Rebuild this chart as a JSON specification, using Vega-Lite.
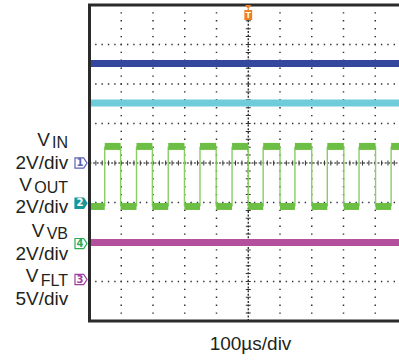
{
  "$schema": "https://vega.github.io/schema/vega-lite/v6.json",
  "width": 399,
  "height": 360,
  "autosize": {"type": "none"},
  "padding": 0,
  "background": "white",
  "config": {
    "view": {"stroke": null},
    "axis": {"disable": true},
    "legend": {"disable": true},
    "text": {"font": "Liberation Sans"}
  },
  "resolve": {"scale": {"color": "independent", "fill": "independent", "stroke": "independent"}},
  "datasets": {
    "vgrid": [{"x": 1}, {"x": 2}, {"x": 3}, {"x": 4}, {"x": 6}, {"x": 7}, {"x": 8}, {"x": 9}],
    "hgrid": [{"y": 1}, {"y": 2}, {"y": 3}, {"y": 5}, {"y": 6}, {"y": 7}],
    "channels": [{"ch": "A", "v": 6.52}, {"ch": "B", "v": 5.52}, {"ch": "M", "v": 1.99}],
    "levels": [
      {"x": 0, "x2": 0.48, "v": 2.9}, {"x": 0.98, "x2": 1.48, "v": 2.9}, {"x": 1.98, "x2": 2.48, "v": 2.9},
      {"x": 2.99, "x2": 3.48, "v": 2.9}, {"x": 3.99, "x2": 4.49, "v": 2.9}, {"x": 5.0, "x2": 5.47, "v": 2.9},
      {"x": 6.0, "x2": 6.47, "v": 2.9}, {"x": 7.0, "x2": 7.49, "v": 2.9}, {"x": 8.01, "x2": 8.49, "v": 2.9},
      {"x": 9.01, "x2": 9.5, "v": 2.9},
      {"x": 0.48, "x2": 0.98, "v": 4.42}, {"x": 1.48, "x2": 1.98, "v": 4.42}, {"x": 2.48, "x2": 2.99, "v": 4.42},
      {"x": 3.48, "x2": 3.99, "v": 4.42}, {"x": 4.49, "x2": 5.0, "v": 4.42}, {"x": 5.47, "x2": 6.0, "v": 4.42},
      {"x": 6.47, "x2": 7.0, "v": 4.42}, {"x": 7.49, "x2": 8.01, "v": 4.42}, {"x": 8.49, "x2": 9.01, "v": 4.42},
      {"x": 9.5, "x2": 10, "v": 4.42}
    ],
    "edges": [
      {"x": 0.48}, {"x": 0.98}, {"x": 1.48}, {"x": 1.98}, {"x": 2.48}, {"x": 2.99}, {"x": 3.48}, {"x": 3.99},
      {"x": 4.49}, {"x": 5.0}, {"x": 5.47}, {"x": 6.0}, {"x": 6.47}, {"x": 7.0}, {"x": 7.49}, {"x": 8.01},
      {"x": 8.49}, {"x": 9.01}, {"x": 9.5}
    ],
    "markers": [{"n": "1", "v": 4.0}, {"n": "2", "v": 2.98}, {"n": "4", "v": 1.96}, {"n": "3", "v": 1.05}],
    "trigger": [{"x": 5, "v": 7.81, "label": "T"}],
    "labels": [
      {"text": "V", "x": -1.25, "y": 4.43, "kind": "main"},
      {"text": "IN", "x": -0.677, "y": 4.38, "kind": "sub"},
      {"text": "2V/div", "x": -0.668, "y": 3.848, "kind": "main"},
      {"text": "V", "x": -1.81, "y": 3.291, "kind": "main"},
      {"text": "OUT", "x": -0.677, "y": 3.23, "kind": "sub"},
      {"text": "2V/div", "x": -0.668, "y": 2.747, "kind": "main"},
      {"text": "V", "x": -1.42, "y": 2.139, "kind": "main"},
      {"text": "VB", "x": -0.677, "y": 2.065, "kind": "sub"},
      {"text": "2V/div", "x": -0.668, "y": 1.557, "kind": "main"},
      {"text": "V", "x": -1.61, "y": 0.999, "kind": "main"},
      {"text": "FLT", "x": -0.677, "y": 0.888, "kind": "sub"},
      {"text": "5V/div", "x": -0.668, "y": 0.405, "kind": "main"},
      {"text": "100µs/div", "x": 5.071, "y": -0.734, "kind": "title"}
    ]
  },
  "layer": [
    {
      "data": {"name": "vgrid"},
      "mark": {"type": "rule", "color": "#333333", "strokeWidth": 1.5, "strokeDash": [1.4, 6.5], "strokeDashOffset": 0.7},
      "encoding": {
        "x": {"field": "x", "type": "quantitative", "scale": {"domain": [-2.819, 9.748], "nice": false, "zero": false}},
        "y": {"datum": 0, "type": "quantitative", "scale": {"domain": [-0.987, 8.127], "nice": false, "zero": false}},
        "y2": {"datum": 8}
      }
    },
    {
      "data": {"name": "hgrid"},
      "mark": {"type": "rule", "color": "#333333", "strokeWidth": 1.5, "strokeDash": [1.4, 4.95], "strokeDashOffset": 0.7},
      "encoding": {
        "y": {"field": "y", "type": "quantitative", "scale": {"domain": [-0.987, 8.127], "nice": false, "zero": false}},
        "x": {"datum": 0, "type": "quantitative", "scale": {"domain": [-2.819, 9.748], "nice": false, "zero": false}},
        "x2": {"datum": 10}
      }
    },
    {
      "data": {"values": [{"c": 5}]},
      "mark": {"type": "rule", "color": "#111111", "strokeWidth": 1.2, "strokeDash": [2, 1.6]},
      "encoding": {
        "x": {"field": "c", "type": "quantitative", "scale": {"domain": [-2.819, 9.748], "nice": false, "zero": false}},
        "y": {"datum": 0, "type": "quantitative", "scale": {"domain": [-0.987, 8.127], "nice": false, "zero": false}},
        "y2": {"datum": 8}
      }
    },
    {
      "data": {"values": [{"c": 5}]},
      "mark": {"type": "rule", "color": "#333333", "strokeWidth": 5, "strokeDash": [1, 6.9], "strokeDashOffset": 0.5},
      "encoding": {
        "x": {"field": "c", "type": "quantitative", "scale": {"domain": [-2.819, 9.748], "nice": false, "zero": false}},
        "y": {"datum": 0, "type": "quantitative", "scale": {"domain": [-0.987, 8.127], "nice": false, "zero": false}},
        "y2": {"datum": 8}
      }
    },
    {
      "data": {"values": [{"c": 4}]},
      "mark": {"type": "rule", "color": "#111111", "strokeWidth": 1.2, "strokeDash": [2, 1.6]},
      "encoding": {
        "y": {"field": "c", "type": "quantitative", "scale": {"domain": [-0.987, 8.127], "nice": false, "zero": false}},
        "x": {"datum": 0, "type": "quantitative", "scale": {"domain": [-2.819, 9.748], "nice": false, "zero": false}},
        "x2": {"datum": 10}
      }
    },
    {
      "data": {"values": [{"c": 4}]},
      "mark": {"type": "rule", "color": "#333333", "strokeWidth": 5, "strokeDash": [1, 5.35], "strokeDashOffset": 0.5},
      "encoding": {
        "y": {"field": "c", "type": "quantitative", "scale": {"domain": [-0.987, 8.127], "nice": false, "zero": false}},
        "x": {"datum": 0, "type": "quantitative", "scale": {"domain": [-2.819, 9.748], "nice": false, "zero": false}},
        "x2": {"datum": 10}
      }
    },
    {
      "data": {"name": "channels"},
      "mark": {"type": "rule", "strokeWidth": 7},
      "encoding": {
        "y": {"field": "v", "type": "quantitative", "scale": {"domain": [-0.987, 8.127], "nice": false, "zero": false}},
        "x": {"datum": 0, "type": "quantitative", "scale": {"domain": [-2.819, 9.748], "nice": false, "zero": false}},
        "x2": {"datum": 10},
        "color": {"field": "ch", "type": "nominal", "scale": {"domain": ["A", "B", "M"], "range": ["#33489C", "#6ECCDB", "#B44F9E"]}}
      }
    },
    {
      "data": {"name": "edges"},
      "mark": {"type": "rule", "color": "#8ACD66", "strokeWidth": 1.4},
      "encoding": {
        "x": {"field": "x", "type": "quantitative", "scale": {"domain": [-2.819, 9.748], "nice": false, "zero": false}},
        "y": {"datum": 2.9, "type": "quantitative", "scale": {"domain": [-0.987, 8.127], "nice": false, "zero": false}},
        "y2": {"datum": 4.42}
      }
    },
    {
      "data": {"name": "levels"},
      "mark": {"type": "rule", "color": "#6CBF44", "strokeWidth": 7},
      "encoding": {
        "x": {"field": "x", "type": "quantitative", "scale": {"domain": [-2.819, 9.748], "nice": false, "zero": false}},
        "x2": {"field": "x2"},
        "y": {"field": "v", "type": "quantitative", "scale": {"domain": [-0.987, 8.127], "nice": false, "zero": false}}
      }
    },
    {
      "data": {"values": [{"a": 0}]},
      "mark": {"type": "rect", "fillOpacity": 0, "stroke": "#2B2B2B", "strokeWidth": 3},
      "encoding": {
        "x": {"datum": 0, "type": "quantitative", "scale": {"domain": [-2.819, 9.748], "nice": false, "zero": false}},
        "x2": {"datum": 10},
        "y": {"datum": 0, "type": "quantitative", "scale": {"domain": [-0.987, 8.127], "nice": false, "zero": false}},
        "y2": {"datum": 8}
      }
    },
    {
      "data": {"name": "markers"},
      "mark": {"type": "point", "filled": false, "shape": "M-1,-0.85L0.45,-0.85L1,0L0.45,0.85L-1,0.85Z", "size": 144, "strokeWidth": 1.2, "opacity": 1},
      "encoding": {
        "x": {"datum": -0.268, "type": "quantitative", "scale": {"domain": [-2.819, 9.748], "nice": false, "zero": false}},
        "y": {"field": "v", "type": "quantitative", "scale": {"domain": [-0.987, 8.127], "nice": false, "zero": false}},
        "fill": {"field": "n", "type": "nominal", "scale": {"domain": ["1", "2", "3", "4"], "range": ["#FFFFFF", "#17979A", "#FFFFFF", "#FFFFFF"]}},
        "stroke": {"field": "n", "type": "nominal", "scale": {"domain": ["1", "2", "3", "4"], "range": ["#5A63B5", "#17979A", "#A0409E", "#2EAA55"]}}
      }
    },
    {
      "data": {"name": "markers"},
      "mark": {"type": "text", "fontSize": 10, "fontWeight": "bold", "align": "center", "baseline": "middle", "font": "DejaVu Sans"},
      "encoding": {
        "x": {"datum": -0.3, "type": "quantitative", "scale": {"domain": [-2.819, 9.748], "nice": false, "zero": false}},
        "y": {"field": "v", "type": "quantitative", "scale": {"domain": [-0.987, 8.127], "nice": false, "zero": false}},
        "text": {"field": "n"},
        "color": {"field": "n", "type": "nominal", "scale": {"domain": ["1", "2", "3", "4"], "range": ["#5A63B5", "#FFFFFF", "#A0409E", "#2EAA55"]}}
      }
    },
    {
      "data": {"name": "trigger"},
      "mark": {"type": "point", "filled": true, "color": "#F28022", "opacity": 1, "size": 225, "shape": "M-0.4,-1L0.4,-1L0,-0.45Z M-0.52,-0.35L0.52,-0.35L0.52,1L-0.52,1Z"},
      "encoding": {
        "x": {"field": "x", "type": "quantitative", "scale": {"domain": [-2.819, 9.748], "nice": false, "zero": false}},
        "y": {"field": "v", "type": "quantitative", "scale": {"domain": [-0.987, 8.127], "nice": false, "zero": false}}
      }
    },
    {
      "data": {"name": "trigger"},
      "mark": {"type": "text", "color": "white", "fontSize": 9, "fontWeight": "bold", "align": "center", "baseline": "middle", "dy": 2.5},
      "encoding": {
        "x": {"field": "x", "type": "quantitative", "scale": {"domain": [-2.819, 9.748], "nice": false, "zero": false}},
        "y": {"field": "v", "type": "quantitative", "scale": {"domain": [-0.987, 8.127], "nice": false, "zero": false}},
        "text": {"field": "label"}
      }
    },
    {
      "data": {"name": "labels"},
      "transform": [{"filter": "datum.kind == 'main'"}],
      "mark": {"type": "text", "fontSize": 19, "color": "#231F20", "align": "right", "baseline": "alphabetic"},
      "encoding": {
        "x": {"field": "x", "type": "quantitative", "scale": {"domain": [-2.819, 9.748], "nice": false, "zero": false}},
        "y": {"field": "y", "type": "quantitative", "scale": {"domain": [-0.987, 8.127], "nice": false, "zero": false}},
        "text": {"field": "text"}
      }
    },
    {
      "data": {"name": "labels"},
      "transform": [{"filter": "datum.kind == 'sub'"}],
      "mark": {"type": "text", "fontSize": 16, "color": "#231F20", "align": "right", "baseline": "alphabetic"},
      "encoding": {
        "x": {"field": "x", "type": "quantitative", "scale": {"domain": [-2.819, 9.748], "nice": false, "zero": false}},
        "y": {"field": "y", "type": "quantitative", "scale": {"domain": [-0.987, 8.127], "nice": false, "zero": false}},
        "text": {"field": "text"}
      }
    },
    {
      "data": {"name": "labels"},
      "transform": [{"filter": "datum.kind == 'title'"}],
      "mark": {"type": "text", "fontSize": 19, "color": "#231F20", "align": "center", "baseline": "alphabetic"},
      "encoding": {
        "x": {"field": "x", "type": "quantitative", "scale": {"domain": [-2.819, 9.748], "nice": false, "zero": false}},
        "y": {"field": "y", "type": "quantitative", "scale": {"domain": [-0.987, 8.127], "nice": false, "zero": false}},
        "text": {"field": "text"}
      }
    }
  ]
}
